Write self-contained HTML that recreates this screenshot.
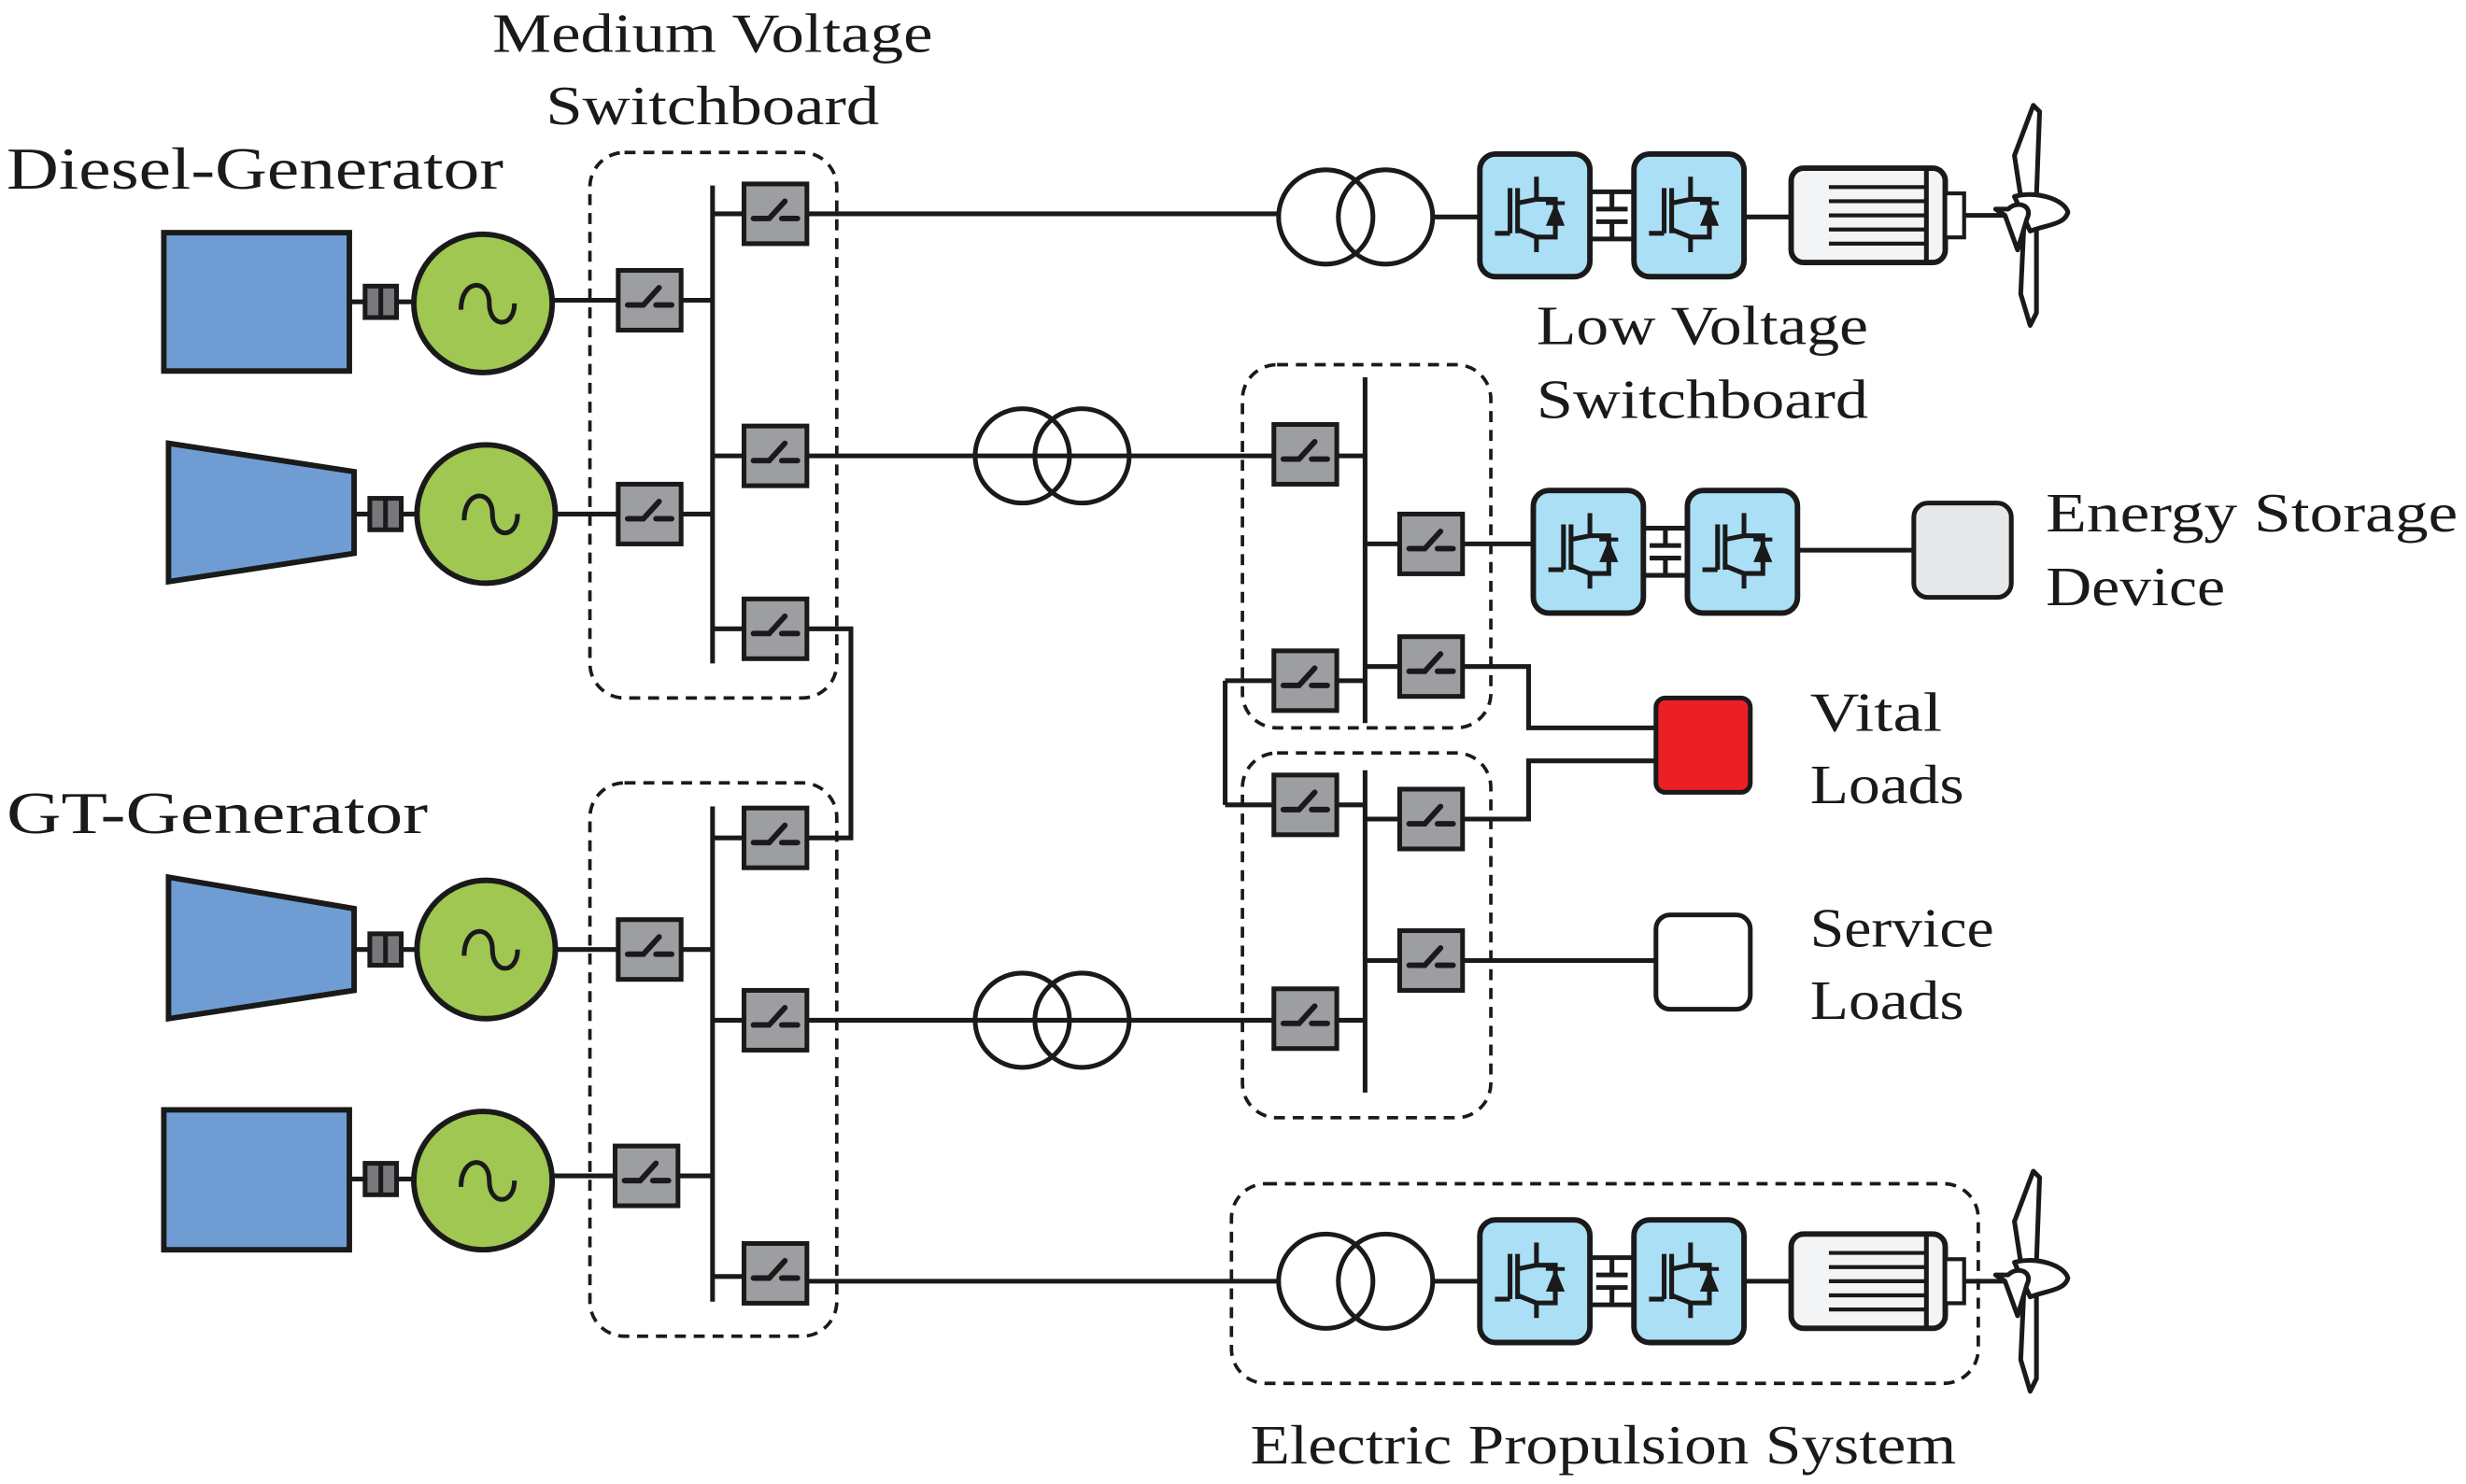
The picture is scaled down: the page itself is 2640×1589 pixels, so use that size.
<!DOCTYPE html>
<html><head><meta charset="utf-8"><style>
html,body{margin:0;padding:0;background:#fff;}
svg{display:block;}
text{font-family:"Liberation Serif",serif;fill:#1a1a1a;}
</style></head><body>
<svg width="2640" height="1589" viewBox="0 0 1568 944" xmlns="http://www.w3.org/2000/svg">
<defs>
<g id="sw">
  <rect x="-20" y="-19" width="40" height="38" fill="#9d9ea2" stroke="#1a1a1a" stroke-width="3"/>
  <path d="M-14 3 H-4 L6 -8 M4 3 H14" fill="none" stroke="#1a1a1a" stroke-width="3.5" stroke-linecap="round"/>
</g>
<g id="gen">
  <ellipse cx="0" cy="0" rx="44" ry="44" fill="#a0c751" stroke="#1a1a1a" stroke-width="3.5"/>
  <path d="M-14 4 C-14 -16 4 -16 4 0 C4 16 20 16 20 0" fill="none" stroke="#1a1a1a" stroke-width="3"/>
</g>
<g id="coup">
  <rect x="-10" y="-10" width="20" height="20" fill="#76787c" stroke="#1a1a1a" stroke-width="3"/>
  <line x1="0" y1="-10" x2="0" y2="10" stroke="#1a1a1a" stroke-width="3"/>
</g>
<g id="igbt0">
  <line x1="0" y1="-18" x2="0" y2="-6" stroke="#1a1a1a" stroke-width="2.5"/>
  <line x1="0" y1="14" x2="0" y2="22" stroke="#1a1a1a" stroke-width="2.5"/>
  <path d="M-10 -4 L0 -6 H10 V14 H0 L-10 10" fill="none" stroke="#1a1a1a" stroke-width="2.5"/>
  <line x1="-10" y1="-12" x2="-10" y2="12" stroke="#1a1a1a" stroke-width="2.5"/>
  <line x1="-14" y1="-12" x2="-14" y2="12" stroke="#1a1a1a" stroke-width="2.5"/>
  <line x1="-22" y1="12" x2="-14" y2="12" stroke="#1a1a1a" stroke-width="2.5"/>
  <path d="M5 8 L10 -4 L15 8 Z" fill="#1a1a1a"/>
  <line x1="5" y1="-4" x2="15" y2="-4" stroke="#1a1a1a" stroke-width="2"/>
</g>
<g id="igbt"><g transform="scale(1.2)"><use href="#igbt0"/></g></g>
<g id="conv">
  <rect x="0" y="0" width="70" height="78" rx="10" fill="#abdff5" stroke="#1a1a1a" stroke-width="3.5"/>
  <use href="#igbt" x="36" y="36"/>
  <line x1="70" y1="24" x2="98" y2="24" stroke="#1a1a1a" stroke-width="3"/>
  <line x1="70" y1="54" x2="98" y2="54" stroke="#1a1a1a" stroke-width="3"/>
  <line x1="84" y1="24" x2="84" y2="35" stroke="#1a1a1a" stroke-width="3"/>
  <line x1="84" y1="43" x2="84" y2="54" stroke="#1a1a1a" stroke-width="3"/>
  <line x1="74" y1="35" x2="94" y2="35" stroke="#1a1a1a" stroke-width="3"/>
  <line x1="74" y1="43" x2="94" y2="43" stroke="#1a1a1a" stroke-width="3"/>
  <rect x="98" y="0" width="70" height="78" rx="10" fill="#abdff5" stroke="#1a1a1a" stroke-width="3.5"/>
  <use href="#igbt" x="134" y="36"/>
</g>
<g id="tr">
  <circle cx="-19" cy="0" r="30" fill="none" stroke="#1a1a1a" stroke-width="3"/>
  <circle cx="19" cy="0" r="30" fill="none" stroke="#1a1a1a" stroke-width="3"/>
</g>
<g id="motor">
  <rect x="0" y="-30" width="98" height="60" rx="8" fill="#f3f4f6" stroke="#1a1a1a" stroke-width="3.5"/>
  <line x1="86" y1="-30" x2="86" y2="30" stroke="#1a1a1a" stroke-width="3"/>
  <path d="M24 -18 H86 M24 -9 H86 M24 0 H86 M24 9 H86 M24 18 H86" stroke="#1a1a1a" stroke-width="2.5"/>
  <rect x="98" y="-14" width="12" height="28" fill="#fff" stroke="#1a1a1a" stroke-width="2.5"/>
  <line x1="110" y1="0" x2="140" y2="0" stroke="#1a1a1a" stroke-width="3"/>
  <g transform="translate(142,0)" fill="#fff" stroke="#1a1a1a" stroke-width="3" stroke-linejoin="round">
    <path d="M4 -12 L0 -38 L12 -70 L16 -66 L14 -12 Z"/>
    <path d="M6 6 L4 50 L10 70 L14 62 L14 6 Z"/>
    <path d="M0 -12 C14 -16 32 -10 34 -2 C32 6 20 6 10 10 Z"/>
    <path d="M-4 -4 C2 -10 12 -6 8 2 L2 22 L-6 0 L-12 -4 Z"/>
  </g>
</g>
</defs>

<g fill="none" stroke="#1a1a1a" stroke-width="2.2" stroke-dasharray="7,5">
  <rect x="375" y="97" width="157" height="347" rx="22"/>
  <rect x="375" y="498" width="157" height="352" rx="22"/>
  <rect x="790" y="232" width="158" height="231" rx="22"/>
  <rect x="790" y="479" width="158" height="232" rx="22"/>
  <rect x="783" y="753" width="475" height="127" rx="22"/>
</g>

<g stroke="#1a1a1a" stroke-width="3" fill="none">
  <line x1="453" y1="118" x2="453" y2="422"/>
  <line x1="453" y1="513" x2="453" y2="828"/>
  <line x1="868" y1="240" x2="868" y2="460"/>
  <line x1="868" y1="490" x2="868" y2="695"/>
  <line x1="351" y1="191" x2="453" y2="191"/>
  <line x1="353" y1="327" x2="453" y2="327"/>
  <line x1="353" y1="604" x2="453" y2="604"/>
  <line x1="351" y1="748" x2="453" y2="748"/>
  <line x1="222" y1="192" x2="262" y2="192"/>
  <line x1="225" y1="327" x2="265" y2="327"/>
  <line x1="225" y1="604" x2="265" y2="604"/>
  <line x1="222" y1="750" x2="262" y2="750"/>
  <line x1="453" y1="136" x2="812" y2="136"/>
  <line x1="453" y1="290" x2="868" y2="290"/>
  <line x1="453" y1="400" x2="473" y2="400"/>
  <polyline points="513,400 541,400 541,533 513,533"/>
  <line x1="453" y1="533" x2="473" y2="533"/>
  <line x1="453" y1="649" x2="868" y2="649"/>
  <line x1="453" y1="812" x2="473" y2="812"/>
  <line x1="513" y1="815" x2="812" y2="815"/>
  <line x1="868" y1="346" x2="975" y2="346"/>
  <line x1="1143" y1="350" x2="1217" y2="350"/>
  <line x1="779" y1="433" x2="868" y2="433"/>
  <line x1="779" y1="433" x2="779" y2="512"/>
  <line x1="779" y1="512" x2="868" y2="512"/>
  <line x1="868" y1="424" x2="890" y2="424"/>
  <polyline points="930,424 972,424 972,463 1053,463"/>
  <line x1="868" y1="521" x2="890" y2="521"/>
  <polyline points="930,521 972,521 972,484 1053,484"/>
  <line x1="868" y1="611" x2="1053" y2="611"/>
  <line x1="912" y1="138" x2="941" y2="138"/>
  <line x1="1109" y1="138" x2="1139" y2="138"/>
  <line x1="912" y1="815" x2="941" y2="815"/>
  <line x1="1109" y1="815" x2="1139" y2="815"/>
</g>

<g stroke="#1a1a1a" stroke-width="3.5" fill="#6f9dd3">
  <rect x="104" y="148" width="118" height="88"/>
  <polygon points="107,282 225,300 225,352 107,370"/>
  <polygon points="107,558 225,578 225,630 107,648"/>
  <rect x="104" y="706" width="118" height="89"/>
</g>
<use href="#coup" x="242" y="192"/>
<use href="#coup" x="245" y="327"/>
<use href="#coup" x="245" y="604"/>
<use href="#coup" x="242" y="750"/>
<use href="#gen" x="307" y="193"/>
<use href="#gen" x="309" y="327"/>
<use href="#gen" x="309" y="604"/>
<use href="#gen" x="307" y="751"/>

<use href="#sw" x="413" y="191"/>
<use href="#sw" x="413" y="327"/>
<use href="#sw" x="413" y="604"/>
<use href="#sw" x="411" y="748"/>
<use href="#sw" x="493" y="136"/>
<use href="#sw" x="493" y="290"/>
<use href="#sw" x="493" y="400"/>
<use href="#sw" x="493" y="533"/>
<use href="#sw" x="493" y="649"/>
<use href="#sw" x="493" y="810"/>
<use href="#sw" x="830" y="289"/>
<use href="#sw" x="910" y="346"/>
<use href="#sw" x="830" y="433"/>
<use href="#sw" x="910" y="424"/>
<use href="#sw" x="830" y="512"/>
<use href="#sw" x="910" y="521"/>
<use href="#sw" x="910" y="611"/>
<use href="#sw" x="830" y="648"/>

<use href="#tr" x="862" y="138"/>
<use href="#tr" x="669" y="290"/>
<use href="#tr" x="669" y="649"/>
<use href="#tr" x="862" y="815"/>
<use href="#conv" x="941" y="98"/>
<use href="#conv" x="975" y="312"/>
<use href="#conv" x="941" y="776"/>
<use href="#motor" x="1139" y="137"/>
<use href="#motor" x="1139" y="815"/>

<rect x="1217" y="320" width="62" height="60" rx="9" fill="#e6e7e8" stroke="#1a1a1a" stroke-width="3"/>
<rect x="1053" y="444" width="60" height="60" rx="6" fill="#ec1f27" stroke="#1a1a1a" stroke-width="3"/>
<rect x="1053" y="582" width="60" height="60" rx="9" fill="#fff" stroke="#1a1a1a" stroke-width="3"/>

<g font-size="35">
<text x="453" y="33" text-anchor="middle" textLength="280" lengthAdjust="spacingAndGlyphs">Medium Voltage</text>
<text x="453" y="79" text-anchor="middle" textLength="212" lengthAdjust="spacingAndGlyphs">Switchboard</text>
<text x="4" y="120" font-size="38" textLength="316" lengthAdjust="spacingAndGlyphs">Diesel-Generator</text>
<text x="4" y="530" font-size="38" textLength="268" lengthAdjust="spacingAndGlyphs">GT-Generator</text>
<text x="977" y="219" textLength="211" lengthAdjust="spacingAndGlyphs">Low Voltage</text>
<text x="977" y="266" textLength="211" lengthAdjust="spacingAndGlyphs">Switchboard</text>
<text x="1301" y="338" textLength="262" lengthAdjust="spacingAndGlyphs">Energy Storage</text>
<text x="1301" y="385" textLength="114" lengthAdjust="spacingAndGlyphs">Device</text>
<text x="1151" y="465" textLength="84" lengthAdjust="spacingAndGlyphs">Vital</text>
<text x="1151" y="511" textLength="98" lengthAdjust="spacingAndGlyphs">Loads</text>
<text x="1151" y="602" textLength="117" lengthAdjust="spacingAndGlyphs">Service</text>
<text x="1151" y="648" textLength="98" lengthAdjust="spacingAndGlyphs">Loads</text>
<text x="795" y="931" textLength="449" lengthAdjust="spacingAndGlyphs">Electric Propulsion System</text>
</g>
</svg>
</body></html>
